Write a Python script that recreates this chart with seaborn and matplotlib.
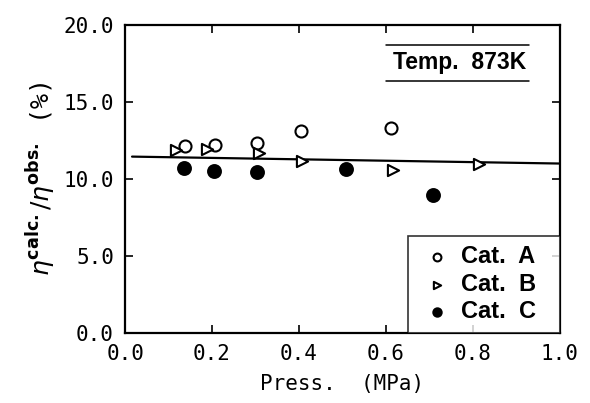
import numpy as np
import pandas as pd
import matplotlib
matplotlib.use("Agg")
import matplotlib.pyplot as plt
import seaborn as sns

# Data
cat_a_x = [0.137, 0.206, 0.304, 0.405, 0.611]
cat_a_y = [12.12, 12.23, 12.36, 13.12, 13.31]
cat_b_x = [0.118, 0.189, 0.308, 0.407, 0.615, 0.815]
cat_b_y = [11.86, 11.93, 11.69, 11.17, 10.60, 10.99]
cat_c_x = [0.136, 0.205, 0.304, 0.508, 0.709]
cat_c_y = [10.69, 10.54, 10.45, 10.63, 8.98]
fit_x = [0.016, 1.0]
fit_y = [11.45, 11.0]
x_ticks = [0.0, 0.2, 0.4, 0.6, 0.8, 1.0]
y_ticks = [0.0, 5.0, 10.0, 15.0, 20.0]

sns.set_style("ticks")
plt.rcParams['font.family'] = ['DejaVu Sans Mono', 'DejaVu Sans']
plt.rcParams['text.color'] = 'black'
plt.rcParams['axes.labelcolor'] = 'black'

df = pd.concat([
    pd.DataFrame({"x": cat_a_x, "y": cat_a_y, "cat": "Cat. A"}),
    pd.DataFrame({"x": cat_b_x, "y": cat_b_y, "cat": "Cat. B"}),
    pd.DataFrame({"x": cat_c_x, "y": cat_c_y, "cat": "Cat. C"}),
], ignore_index=True)

fig = plt.figure(figsize=(5.90, 4.03), dpi=100)
ax = fig.add_axes([0.212, 0.174, 0.737, 0.764])

sns.lineplot(x=fit_x, y=fit_y, ax=ax, color="black", lw=1.6, legend=False)

styles = {
    "Cat. A": dict(marker="o", facecolor="white", s=75),
    "Cat. B": dict(marker=">", facecolor="white", s=65),
    "Cat. C": dict(marker="o", facecolor="black", s=85),
}
for cat, st in styles.items():
    sub = df[df["cat"] == cat]
    sns.scatterplot(data=sub, x="x", y="y", ax=ax, marker=st["marker"],
                    s=st["s"], facecolor=st["facecolor"], edgecolor="black",
                    linewidth=1.5, zorder=3, label=cat)

ax.set_xlim(0, 1.0)
ax.set_ylim(0, 20)
ax.set_xticks(x_ticks)
ax.set_yticks(y_ticks)
ax.set_xticklabels([f"{v:.1f}" for v in x_ticks])
ax.set_yticklabels([f"{v:.1f}" for v in y_ticks])
ax.tick_params(direction="in", length=6, width=1.2, labelsize=15, colors="black",
               top=True, right=True, pad=8)
for sp in ax.spines.values():
    sp.set_visible(True)
    sp.set_linewidth(1.6)
    sp.set_color("black")

ax.set_xlabel("Press.  (MPa)", fontsize=15, labelpad=7, color="black")
ax.set_ylabel(r"$\eta^{\mathbf{calc.}}/\eta^{\mathbf{obs.}}$ (%)", fontsize=18,
              labelpad=4, color="black")

leg = ax.legend(loc="lower left", bbox_to_anchor=(0.65, 0.0, 0.35, 0.32),
                mode="expand", frameon=True, fancybox=False, edgecolor="black",
                prop={"family": "Liberation Sans", "weight": "bold", "size": 17},
                handletextpad=0.25, handlelength=1.6, borderpad=0.42, labelspacing=0.18,
                markerscale=0.65, borderaxespad=0.0)
leg.get_frame().set_linewidth(1.2)
for t in leg.get_texts():
    t.set_text(t.get_text().replace(". ", ".  "))
    t.set_color("black")

# Temperature annotation with lines above and below
ax.text(0.77, 17.55, "Temp.  873K", fontsize=16.5, fontweight="bold",
        family="Liberation Sans", ha="center", va="center", color="black")
ax.plot([0.60, 0.93], [18.7, 18.7], color="black", lw=1.1)
ax.plot([0.60, 0.93], [16.36, 16.36], color="black", lw=1.1)

fig.savefig("out.png", dpi=100)
